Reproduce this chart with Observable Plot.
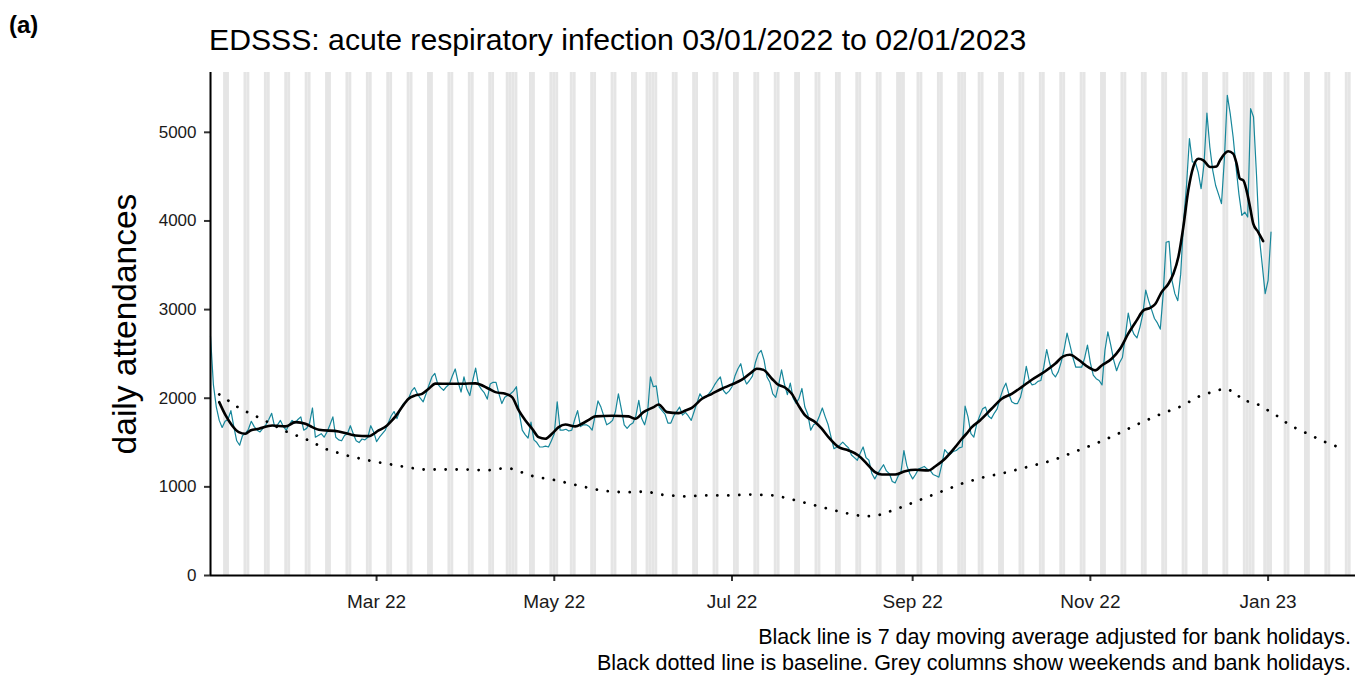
<!DOCTYPE html>
<html><head><meta charset="utf-8">
<script src="https://cdn.jsdelivr.net/npm/d3@7"></script>
<script src="https://cdn.jsdelivr.net/npm/@observablehq/plot@0.6"></script>
<style>
html,body{margin:0;padding:0;background:#fff;}
#wrap{position:relative;width:1363px;height:677px;overflow:hidden;font-family:"Liberation Sans",Arial,Helvetica,sans-serif;color:#000;}
#wrap svg{position:absolute;left:0;top:0;}
.t{position:absolute;white-space:nowrap;line-height:1;}
</style></head><body>
<div id="wrap">
  <div class="t" style="left:9px;top:13px;font-size:24px;font-weight:bold;">(a)</div>
  <div class="t" style="left:209px;top:25px;font-size:30.2px;">EDSSS: acute respiratory infection 03/01/2022 to 02/01/2023</div>
  <div class="t" style="left:125px;top:324px;font-size:33.5px;transform:translate(-50%,-50%) rotate(-90deg);">daily attendances</div>
  <div class="t" style="right:12px;top:627px;font-size:21.5px;">Black line is 7 day moving average adjusted for bank holidays.</div>
  <div class="t" style="right:12px;top:653px;font-size:21.5px;">Black dotted line is baseline. Grey columns show weekends and bank holidays.</div>
</div>
<script>
// ---- data ----
const startDate = "2022-01-03";
const endDate = "2023-01-31";

// daily attendances from 2022-01-03 (one value per day, Mon..Sun rows)
const daily = [
2700,2150,1900,1750,1670,1740,1760,
1860,1680,1520,1470,1580,1600,1650,
1740,1680,1640,1620,1660,1700,1760,
1830,1680,1700,1750,1680,1640,1700,
1750,1720,1760,1790,1640,1660,1720,
1890,1560,1580,1600,1560,1620,1700,
1790,1560,1530,1520,1580,1600,1690,
1600,1520,1500,1540,1530,1560,1690,
1620,1510,1560,1600,1640,1720,1800,
1850,1770,1860,1930,1960,2000,2080,
2120,2050,2000,1960,2050,2150,2240,
2280,2160,2120,2090,2130,2160,2250,
2330,2180,2070,2240,2100,2030,2200,
2340,2150,2100,2060,1990,2160,2180,
2180,2050,1940,2010,2030,2050,2080,
2130,1830,1640,1590,1550,1730,1530,
1500,1450,1450,1460,1450,1520,1600,
1960,1640,1640,1650,1630,1640,1760,
1860,1680,1700,1700,1680,1640,1800,
1970,1900,1800,1700,1720,1750,1850,
2050,1880,1700,1660,1700,1720,1800,
1975,1770,1700,1830,2240,2130,2140,
1900,1860,1820,1720,1720,1800,1850,
1900,1810,1840,1800,1750,1850,1950,
2050,2000,2010,2050,2090,2150,2200,
2240,2090,2050,2080,2130,2250,2330,
2390,2240,2160,2200,2250,2400,2500,
2540,2430,2240,2180,2050,2010,2150,
2320,2160,2040,2170,2000,1940,2000,
2110,1900,1820,1640,1700,1720,1800,
1890,1790,1700,1560,1430,1450,1470,
1505,1470,1440,1360,1330,1300,1380,
1450,1330,1300,1150,1090,1150,1200,
1250,1180,1150,1060,1045,1120,1170,
1410,1240,1150,1090,1140,1200,1215,
1230,1200,1185,1140,1125,1110,1250,
1420,1380,1370,1400,1410,1440,1450,
1910,1790,1600,1560,1710,1800,1880,
1900,1800,1770,1830,1880,2000,2100,
2170,2050,1960,1940,1940,2010,2150,
2360,2200,2150,2160,2190,2200,2350,
2550,2400,2280,2240,2300,2410,2550,
2735,2600,2460,2350,2350,2350,2450,
2600,2400,2260,2220,2200,2150,2540,
2750,2600,2430,2310,2400,2460,2700,
2960,2800,2720,2680,2800,2950,3220,
3100,3000,2900,2850,2780,3180,3760,
3770,3330,3180,3100,3400,4000,4400,
4930,4665,4665,4550,4364,4640,5218,
4835,4571,4400,4300,4195,4700,5418,
5211,4947,4608,4300,4063,4100,4044,
5267,5173,4533,3818,3500,3180,3330,
3873
];

// 7 day moving average: day offset from startDate, value
const maDay = [3,5.2,7.4,9.7,12,13.7,16.6,21.2,25.7,29.2,32.6,34.9,37.2,44,49.7,54.3,57.7,60.6,62.3,63.5,65.5,68,70.3,72.6,74.9,77.2,81.8,86.3,90.9,95.5,97.8,101.2,103.5,105.8,108.1,110.4,112.6,114.9,117.2,119.5,121.8,125.2,127.5,130.4,132.1,137.8,143.5,145.8,148.6,152.1,153.8,156.7,160.7,163,165.2,168.7,172.1,175.5,179,182.4,185.8,187.5,189.8,192.7,194.5,197.3,199.5,201.8,204.1,207.6,209.8,212.1,215.6,219,222.4,225.3,228.1,230.4,235,238.4,241.9,246.4,248.7,252.1,255.6,257.9,259.5,261.3,264.1,268.1,271.6,275,278.4,281.9,286.4,289.9,292.7,295,297.9,301.3,303.6,305.9,309.3,312.2,315,317.9,320.2,322.5,324.2,326.5,328.8,330.5,332.2,333.9,335.6,337.3,339.1,340.8,343.1,345.3,346.5,349.3,351,352.2,353.3,354.5,355.6,356.8,357.9,359.6,361.3];
const maValue = [1956,1806,1693,1618,1599,1636,1656,1693,1682,1730,1712,1674,1644,1625,1580,1572,1636,1693,1749,1795,1890,1994,2032,2050,2107,2165,2163,2163,2168,2107,2069,2050,2013,1862,1749,1656,1561,1543,1599,1674,1704,1682,1712,1768,1795,1802,1795,1768,1843,1900,1930,1843,1832,1862,1892,1994,2050,2107,2156,2209,2295,2332,2320,2220,2160,2118,2050,1919,1806,1730,1656,1561,1448,1411,1354,1260,1166,1140,1140,1177,1193,1185,1230,1317,1448,1543,1600,1674,1749,1881,1994,2050,2126,2209,2302,2389,2472,2490,2434,2351,2314,2370,2446,2558,2728,2878,2991,3020,3060,3200,3292,3405,3593,3931,4345,4608,4702,4684,4608,4615,4684,4786,4760,4646,4477,4458,4345,4157,3970,3875,3773];

// baseline (dotted): day offset from startDate, value
const baseDay = [3,10,18,25,33,40,48,56,64,72,80,88,95,100,103,111,119,126,134,142,150,154,162,170,177,186,194,201,209,217,224,229,236,243,250,258,265,273,281,289,296,304,311,318,325,333,340,348,352,354,358,361,364,367,370,374,378,381,385,388];
const baseValue = [2043,1885,1760,1637,1535,1422,1343,1287,1241,1196,1196,1196,1185,1208,1208,1117,1072,1016,959,937,948,914,892,903,903,914,903,847,779,711,666,677,756,847,937,1038,1106,1162,1230,1298,1388,1490,1591,1704,1806,1907,2032,2111,2065,1975,1953,1907,1840,1783,1704,1637,1580,1524,1479,1433];

const bankHolidays = ["2022-01-03","2022-04-15","2022-04-18","2022-05-02","2022-06-02","2022-06-03","2022-08-29","2022-09-19","2022-12-26","2022-12-27","2023-01-02"];

const xTickDates = ["2022-03-01","2022-05-01","2022-07-01","2022-09-01","2022-11-01","2023-01-01"];
const xTickLabels = ["Mar 22","May 22","Jul 22","Sep 22","Nov 22","Jan 23"];
const yTicks = [0,1000,2000,3000,4000,5000];

// ---- build tables ----
const DAY = 864e5;
const t0 = Date.parse(startDate + "T00:00:00Z");
const t1 = Date.parse(endDate + "T00:00:00Z");
const dailyRows = daily.map((v, i) => ({date: new Date(t0 + i * DAY), value: v}));
const maRows = maDay.map((d, i) => ({date: new Date(t0 + d * DAY), value: maValue[i]}));
const baseRows = baseDay.map((d, i) => ({date: new Date(t0 + d * DAY), value: baseValue[i]}));
const bh = new Set(bankHolidays.map(s => Date.parse(s + "T00:00:00Z")));
const greyDays = [];
for (let t = t0; t <= t1; t += DAY) {
  const wd = new Date(t).getUTCDay();
  if (wd === 0 || wd === 6 || bh.has(t)) greyDays.push(new Date(t));
}
const tickTimes = xTickDates.map(s => new Date(s + "T00:00:00Z"));
const tickLabelMap = new Map(tickTimes.map((d, i) => [+d, xTickLabels[i]]));

const chart = Plot.plot({
  width: 1363, height: 677,
  marginTop: 72, marginRight: 8, marginBottom: 102, marginLeft: 210,
  x: {type: "utc", domain: [new Date(t0), new Date(t1)]},
  y: {domain: [0, 5675]},
  style: {fontFamily: "'Liberation Sans', Arial, Helvetica, sans-serif", color: "#000", background: "transparent", overflow: "visible"},
  marks: [
    Plot.rect(greyDays, {x1: d => new Date(+d - DAY / 2), x2: d => new Date(+d + DAY / 2), fill: "#e5e5e5", clip: true}),
    Plot.lineY(dailyRows, {x: "date", y: "value", stroke: "#17879b", strokeWidth: 1.2}),
    Plot.line(baseRows, {x: "date", y: "value", stroke: "#000", strokeWidth: 2.8, strokeDasharray: "0.01 11", strokeLinecap: "round"}),
    Plot.line(maRows, {x: "date", y: "value", stroke: "#000", strokeWidth: 2.6, curve: "monotone-x"}),
    Plot.axisX({ticks: tickTimes, tickFormat: d => tickLabelMap.get(+d), tickSize: 6, tickPadding: 13, fontSize: 19, label: null, stroke: "#333", strokeWidth: 2, fill: "#1a1a1a"}),
    Plot.axisY({ticks: yTicks, tickFormat: d => String(d), tickSize: 6, tickPadding: 8, fontSize: 17, label: null, stroke: "#333", strokeWidth: 2, fill: "#1a1a1a"}),
    Plot.ruleY([0], {stroke: "#000", strokeWidth: 2}),
    Plot.ruleX([new Date(t0)], {stroke: "#000", strokeWidth: 2})
  ]
});
document.getElementById("wrap").prepend(chart);
</script>
</body></html>
